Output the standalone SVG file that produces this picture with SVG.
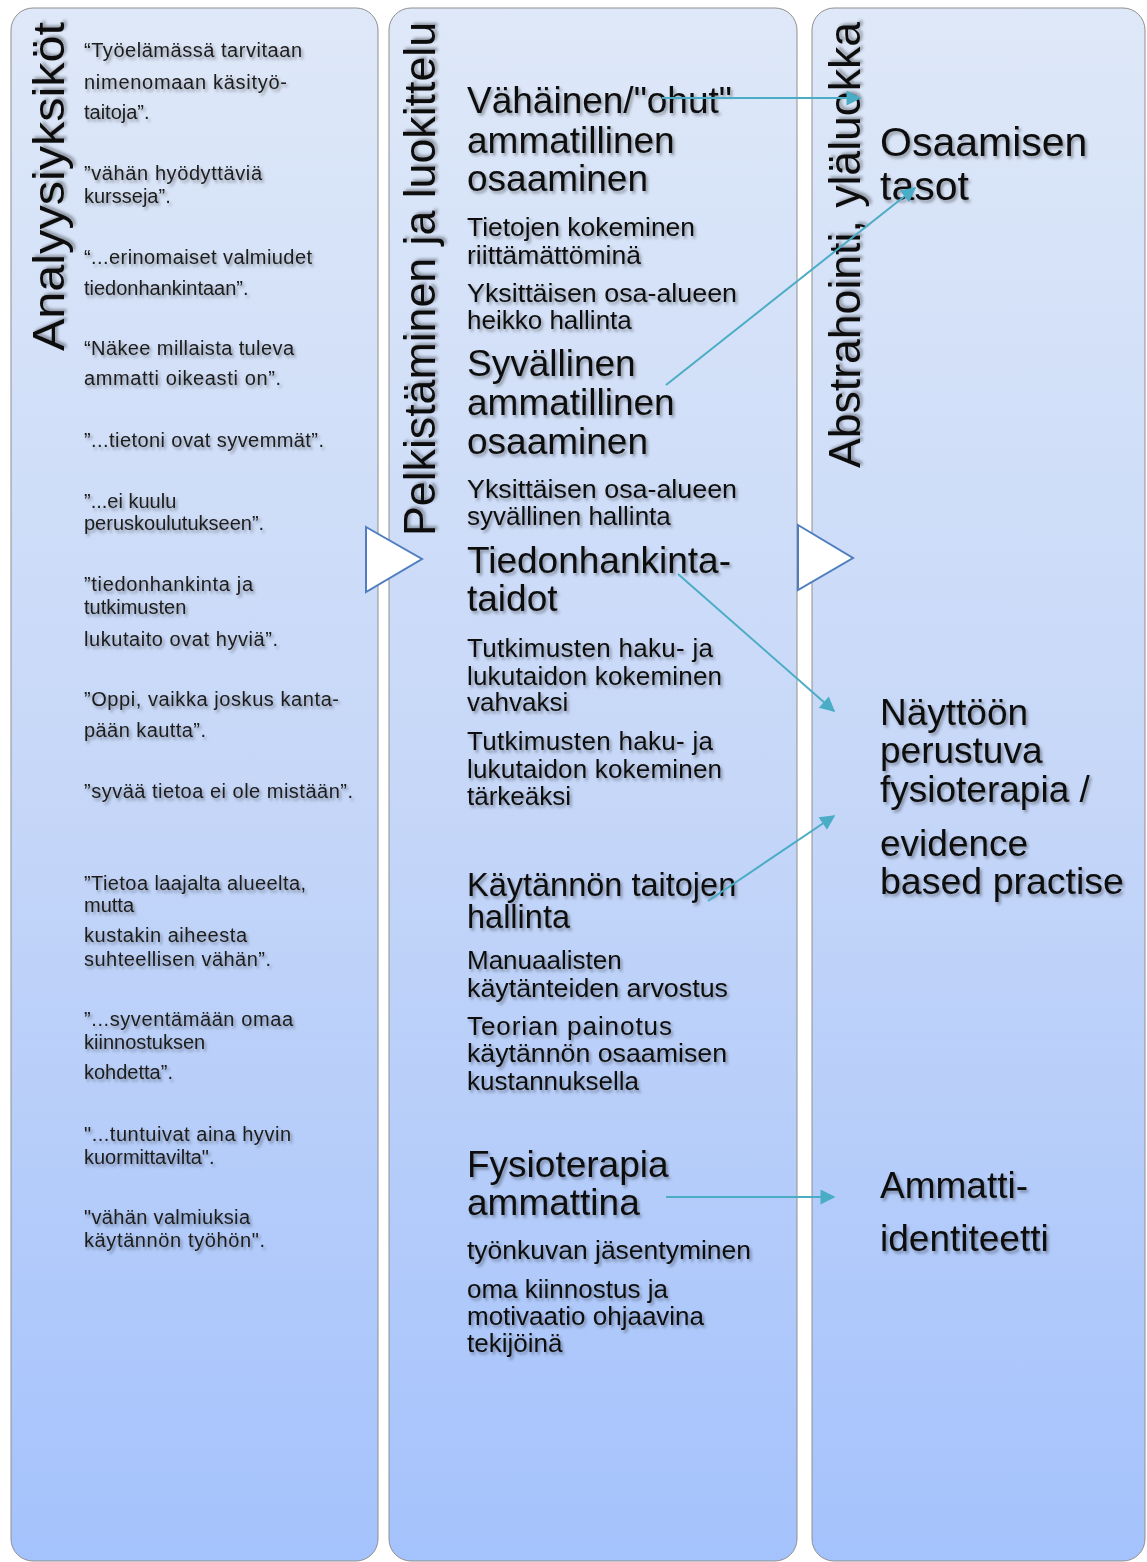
<svg xmlns="http://www.w3.org/2000/svg" width="1147" height="1562" viewBox="0 0 1147 1562">
<defs>
<linearGradient id="pg" x1="0" y1="0" x2="0" y2="1">
<stop offset="0" stop-color="#dee8f8"/>
<stop offset="0.5" stop-color="#c6d7f8"/>
<stop offset="1" stop-color="#a4c2fc"/>
</linearGradient>
<filter id="sh" x="-10%" y="-30%" width="130%" height="180%">
<feDropShadow dx="2" dy="2.5" stdDeviation="1.6" flood-color="#000" flood-opacity="0.35"/>
</filter>
<marker id="ah" viewBox="0 0 10 10" refX="9" refY="5" markerWidth="18" markerHeight="15" markerUnits="userSpaceOnUse" orient="auto">
<path d="M0,0 L10,5 L0,10 z" fill="#4bacc6"/>
</marker>
<style>
.panel{fill:url(#pg);stroke:#8f8f8f;stroke-width:1}
text{font-family:"Liberation Sans",Arial,sans-serif;fill:#111;filter:url(#sh)}
.title{font-size:45px}
.q{font-size:20px;fill:#1c1c1c}
.h{font-size:37px}
.h2{font-size:32.5px}
.s{font-size:26px}
.r1{font-size:41px}
.conn{stroke:#4bacc6;stroke-width:2;fill:none;marker-end:url(#ah)}
.tri{fill:#fff;stroke:#4f7ec0;stroke-width:2;stroke-linejoin:miter}
</style>
</defs>
<rect width="1147" height="1562" fill="#fff"/>

<g id="panel-analyysiyksikot">
<rect class="panel" x="11" y="8" width="367" height="1553" rx="22"/>
<text class="title" transform="translate(64,351) rotate(-90)" textLength="329" lengthAdjust="spacingAndGlyphs">Analyysiyksiköt</text>
<text class="q" x="84" y="57" textLength="218" lengthAdjust="spacing">“Työelämässä tarvitaan</text>
<text class="q" x="84" y="89" textLength="203" lengthAdjust="spacing">nimenomaan käsityö-</text>
<text class="q" x="84" y="119">taitoja”.</text>
<text class="q" x="84" y="180" textLength="178" lengthAdjust="spacing">”vähän hyödyttäviä</text>
<text class="q" x="84" y="203">kursseja”.</text>
<text class="q" x="84" y="264" textLength="228" lengthAdjust="spacing">“...erinomaiset valmiudet</text>
<text class="q" x="84" y="295">tiedonhankintaan”.</text>
<text class="q" x="84" y="355" textLength="210" lengthAdjust="spacing">“Näkee millaista tuleva</text>
<text class="q" x="84" y="385" textLength="197" lengthAdjust="spacing">ammatti oikeasti on”.</text>
<text class="q" x="84" y="447" textLength="240" lengthAdjust="spacing">”...tietoni ovat syvemmät”.</text>
<text class="q" x="84" y="508">”...ei kuulu</text>
<text class="q" x="84" y="530">peruskoulutukseen”.</text>
<text class="q" x="84" y="591" textLength="169" lengthAdjust="spacing">”tiedonhankinta ja</text>
<text class="q" x="84" y="614">tutkimusten</text>
<text class="q" x="84" y="646" textLength="194" lengthAdjust="spacing">lukutaito ovat hyviä”.</text>
<text class="q" x="84" y="706" textLength="255" lengthAdjust="spacing">”Oppi, vaikka joskus kanta-</text>
<text class="q" x="84" y="737" textLength="122" lengthAdjust="spacing">pään kautta”.</text>
<text class="q" x="84" y="798" textLength="269" lengthAdjust="spacing">”syvää tietoa ei ole mistään”.</text>
<text class="q" x="84" y="890" textLength="222" lengthAdjust="spacing">”Tietoa laajalta alueelta,</text>
<text class="q" x="84" y="912">mutta</text>
<text class="q" x="84" y="942" textLength="163" lengthAdjust="spacing">kustakin aiheesta</text>
<text class="q" x="84" y="966" textLength="187" lengthAdjust="spacing">suhteellisen vähän”.</text>
<text class="q" x="84" y="1026" textLength="209" lengthAdjust="spacing">”...syventämään omaa</text>
<text class="q" x="84" y="1049">kiinnostuksen</text>
<text class="q" x="84" y="1079">kohdetta”.</text>
<text class="q" x="84" y="1141" textLength="207" lengthAdjust="spacing">"...tuntuivat aina hyvin</text>
<text class="q" x="84" y="1164">kuormittavilta".</text>
<text class="q" x="84" y="1224" textLength="166" lengthAdjust="spacing">"vähän valmiuksia</text>
<text class="q" x="84" y="1247" textLength="181" lengthAdjust="spacing">käytännön työhön".</text>
</g>

<g id="panel-pelkistaminen">
<rect class="panel" x="389" y="8" width="408" height="1553" rx="22"/>
<text class="title" transform="translate(435,536) rotate(-90)" textLength="514" lengthAdjust="spacingAndGlyphs">Pelkistäminen ja luokittelu</text>
<text class="h" x="467" y="113">Vähäinen/"ohut"</text>
<text class="h" x="467" y="153">ammatillinen</text>
<text class="h" x="467" y="191">osaaminen</text>
<text class="s" x="467" y="236" textLength="228" lengthAdjust="spacingAndGlyphs">Tietojen kokeminen</text>
<text class="s" x="467" y="264" textLength="174" lengthAdjust="spacingAndGlyphs">riittämättöminä</text>
<text class="s" x="467" y="302" textLength="270" lengthAdjust="spacingAndGlyphs">Yksittäisen osa-alueen</text>
<text class="s" x="467" y="329">heikko hallinta</text>
<text class="h" x="467" y="376">Syvällinen</text>
<text class="h" x="467" y="415">ammatillinen</text>
<text class="h" x="467" y="454">osaaminen</text>
<text class="s" x="467" y="498" textLength="270" lengthAdjust="spacingAndGlyphs">Yksittäisen osa-alueen</text>
<text class="s" x="467" y="525">syvällinen hallinta</text>
<text class="h" x="467" y="573">Tiedonhankinta-</text>
<text class="h" x="467" y="611">taidot</text>
<text class="s" x="467" y="657" textLength="246" lengthAdjust="spacing">Tutkimusten haku- ja</text>
<text class="s" x="467" y="685" textLength="255" lengthAdjust="spacing">lukutaidon kokeminen</text>
<text class="s" x="467" y="711">vahvaksi</text>
<text class="s" x="467" y="750" textLength="246" lengthAdjust="spacing">Tutkimusten haku- ja</text>
<text class="s" x="467" y="778" textLength="255" lengthAdjust="spacing">lukutaidon kokeminen</text>
<text class="s" x="467" y="805">tärkeäksi</text>
<text class="h2" x="467" y="896">Käytännön taitojen</text>
<text class="h2" x="467" y="928">hallinta</text>
<text class="s" x="467" y="969">Manuaalisten</text>
<text class="s" x="467" y="997" textLength="261" lengthAdjust="spacingAndGlyphs">käytänteiden arvostus</text>
<text class="s" x="467" y="1035" textLength="205" lengthAdjust="spacing">Teorian painotus</text>
<text class="s" x="467" y="1062" textLength="260" lengthAdjust="spacingAndGlyphs">käytännön osaamisen</text>
<text class="s" x="467" y="1090">kustannuksella</text>
<text class="h" x="467" y="1177">Fysioterapia</text>
<text class="h" x="467" y="1215">ammattina</text>
<text class="s" x="467" y="1259" textLength="284" lengthAdjust="spacingAndGlyphs">työnkuvan jäsentyminen</text>
<text class="s" x="467" y="1298">oma kiinnostus ja</text>
<text class="s" x="467" y="1325">motivaatio ohjaavina</text>
<text class="s" x="467" y="1352">tekijöinä</text>
</g>

<g id="panel-abstrahointi">
<rect class="panel" x="812" y="8" width="333" height="1553" rx="22"/>
<text class="title" transform="translate(860,468) rotate(-90)" textLength="446" lengthAdjust="spacingAndGlyphs">Abstrahointi, yläluokka</text>
<text class="r1" x="880" y="156">Osaamisen</text>
<text class="r1" x="880" y="200">tasot</text>
<text class="h" x="880" y="725">Näyttöön</text>
<text class="h" x="880" y="763">perustuva</text>
<text class="h" x="880" y="802">fysioterapia /</text>
<text class="h" x="880" y="856">evidence</text>
<text class="h" x="880" y="894" textLength="244" lengthAdjust="spacingAndGlyphs">based practise</text>
<text class="h" x="880" y="1198">Ammatti-</text>
<text class="h" x="880" y="1251">identiteetti</text>
</g>

<g id="flow-arrows">
<polygon class="tri" points="366,527 422,559 366,592"/>
<polygon class="tri" points="798,525 853,558 798,590"/>
</g>

<g id="connectors">
<line class="conn" x1="662" y1="98" x2="860" y2="98"/>
<line class="conn" x1="666" y1="385" x2="915" y2="188"/>
<line class="conn" x1="678" y1="574" x2="834" y2="711"/>
<line class="conn" x1="708" y1="901" x2="834" y2="816"/>
<line class="conn" x1="666" y1="1197" x2="834" y2="1197"/>
</g>
</svg>
